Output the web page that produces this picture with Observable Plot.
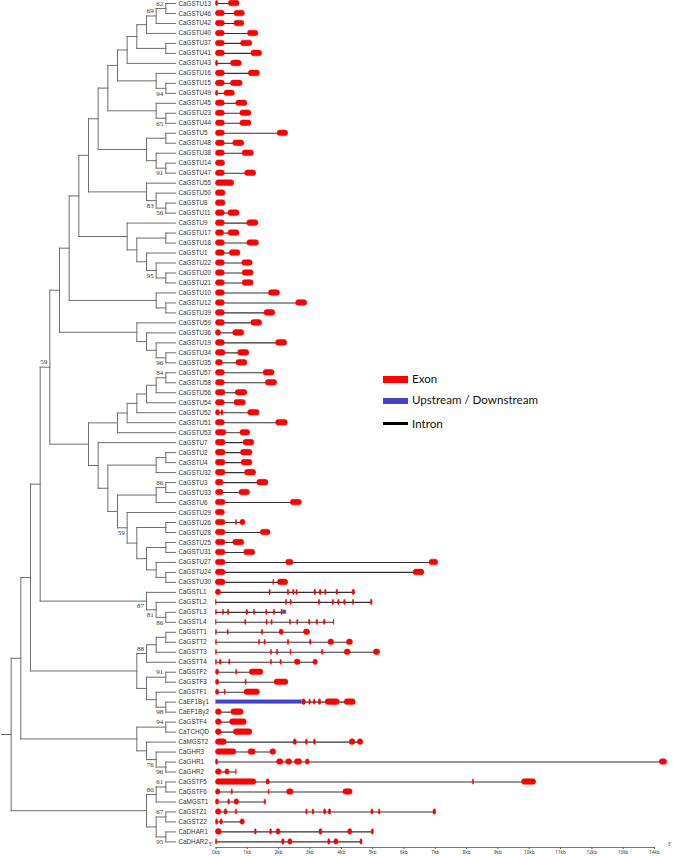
<!DOCTYPE html>
<html><head><meta charset="utf-8">
<script src="https://cdn.jsdelivr.net/npm/d3@7"></script>
<script src="https://cdn.jsdelivr.net/npm/@observablehq/plot@0.6"></script>
<style>
html,body{margin:0;padding:0;background:#fff;}
#wrap{position:relative;width:673px;height:857px;overflow:hidden;}
#wrap svg{position:absolute;left:0;top:0;}
.lg{position:absolute;left:383px;font-family:Lato,"Open Sans",sans-serif;font-size:11.6px;color:#111;}
.lg span{position:absolute;left:0;width:24.5px;}
.lg b{position:absolute;left:29px;font-weight:normal;white-space:nowrap;}
</style></head>
<body><div id="wrap"></div>
<script>
// ---- data ----
const genes = ["CaGSTU13","CaGSTU46","CaGSTU42","CaGSTU40","CaGSTU37","CaGSTU41","CaGSTU43","CaGSTU16","CaGSTU15","CaGSTU49",
"CaGSTU45","CaGSTU23","CaGSTU44","CaGSTU5","CaGSTU48","CaGSTU38","CaGSTU14","CaGSTU47","CaGSTU55","CaGSTU50",
"CaGSTU8","CaGSTU11","CaGSTU9","CaGSTU17","CaGSTU18","CaGSTU1","CaGSTU22","CaGSTU20","CaGSTU21","CaGSTU10",
"CaGSTU12","CaGSTU39","CaGSTU59","CaGSTU36","CaGSTU19","CaGSTU34","CaGSTU35","CaGSTU57","CaGSTU58","CaGSTU56",
"CaGSTU54","CaGSTU52","CaGSTU51","CaGSTU53","CaGSTU7","CaGSTU2","CaGSTU4","CaGSTU32","CaGSTU3","CaGSTU33",
"CaGSTU6","CaGSTU29","CaGSTU26","CaGSTU28","CaGSTU25","CaGSTU31","CaGSTU27","CaGSTU24","CaGSTU30","CaGSTL1",
"CaGSTL2","CaGSTL3","CaGSTL4","CaGSTT1","CaGSTT2","CaGSTT3","CaGSTT4","CaGSTF2","CaGSTF3","CaGSTF1",
"CaEF1Bγ1","CaEF1Bγ2","CaGSTF4","CaTCHQD","CaMGST2","CaGHR3","CaGHR1","CaGHR2","CaGSTF5","CaGSTF6",
"CaMGST1","CaGSTZ1","CaGSTZ2","CaDHAR1","CaDHAR2"];

// tree topology (Newick) with bootstrap support on internal nodes
const newick =
"((((((((((((((((((CaGSTU13,CaGSTU46)62,CaGSTU42)69,CaGSTU40),(CaGSTU37,CaGSTU41)),CaGSTU43)," +
"(CaGSTU16,(CaGSTU15,CaGSTU49)94)),(CaGSTU45,(CaGSTU23,CaGSTU44)65))," +
"((CaGSTU5,CaGSTU48),(CaGSTU38,(CaGSTU14,CaGSTU47)91))),(CaGSTU55,(CaGSTU50,(CaGSTU8,CaGSTU11)56)83))," +
"(CaGSTU9,((CaGSTU17,CaGSTU18),(CaGSTU1,(CaGSTU22,(CaGSTU20,CaGSTU21))95)))),(CaGSTU10,(CaGSTU12,CaGSTU39)))," +
"(CaGSTU59,(CaGSTU36,(CaGSTU19,(CaGSTU34,CaGSTU35)96))))," +
"(((((((CaGSTU57,CaGSTU58)84,CaGSTU56),CaGSTU54),CaGSTU52),CaGSTU51),CaGSTU53)," +
"(CaGSTU7,(((CaGSTU2,CaGSTU4),CaGSTU32),(((CaGSTU3,CaGSTU33)86,CaGSTU6)," +
"(CaGSTU29,((CaGSTU26,CaGSTU28),((CaGSTU25,CaGSTU31),(CaGSTU27,(CaGSTU24,CaGSTU30)))))59)))))59," +
"(CaGSTL1,(CaGSTL2,(CaGSTL3,CaGSTL4)86)81)87)," +
"((((CaGSTT1,CaGSTT2),CaGSTT3),CaGSTT4)88,((CaGSTF2,CaGSTF3)91,(CaGSTF1,(CaEF1Bγ1,CaEF1Bγ2)98))))," +
"((CaGSTF4,CaTCHQD)94,(CaMGST2,(CaGHR3,(CaGHR1,CaGHR2)96)76)))," +
"(((CaGSTF5,CaGSTF6)61,CaMGST1)80,((CaGSTZ1,CaGSTZ2)67,(CaDHAR1,CaDHAR2)95)));";

// exon positions (kb from 5' end), one list per gene in the order of `genes`
const exons = [
[[0,0.07],[0.41,0.75]],[[0,0.28],[0.59,0.92]],[[0,0.28],[0.59,0.90]],[[0,0.28],[1.02,1.35]],[[0,0.28],[0.80,1.16]],
[[0,0.28],[1.13,1.47]],[[0,0.07],[0.48,0.82]],[[0,0.28],[1.05,1.40]],[[0,0.28],[0.48,0.85]],[[0,0.07],[0.27,0.60]],
[[0,0.28],[0.65,1.00]],[[0,0.28],[0.78,1.13]],[[0,0.28],[0.78,1.13]],[[0,0.28],[1.97,2.30]],[[0,0.28],[0.55,0.90]],
[[0,0.28],[0.85,1.21]],[[0,0.29]],[[0,0.28],[0.93,1.28]],[[0,0.58]],[[0,0.30]],
[[0,0.30]],[[0,0.28],[0.40,0.75]],[[0,0.28],[1.00,1.35]],[[0,0.26],[0.40,0.75]],[[0,0.28],[1.00,1.37]],
[[0,0.28],[0.44,0.78]],[[0,0.28],[0.84,1.17]],[[0,0.28],[0.85,1.20]],[[0,0.28],[0.85,1.20]],[[0,0.28],[1.69,2.04]],
[[0,0.28],[2.56,2.91]],[[0,0.28],[1.55,1.89]],[[0,0.28],[1.13,1.47]],[[0,0.16],[0.55,0.90]],[[0,0.28],[1.92,2.27]],
[[0,0.30],[0.71,1.06]],[[0,0.22],[0.65,1.00]],[[0,0.28],[1.52,1.87]],[[0,0.28],[1.59,1.95]],[[0,0.30],[0.63,1.00]],
[[0,0.28],[0.59,0.95]],[[0,0.13],[0.17,0.24],[1.03,1.39]],[[0,0.28],[1.92,2.29]],[[0,0.33],[0.78,1.09]],[[0,0.30],[0.88,1.22]],
[[0,0.30],[0.80,1.16]],[[0,0.30],[0.82,1.16]],[[0,0.30],[0.93,1.28]],[[0,0.24],[1.32,1.67]],[[0,0.24],[0.75,1.08]],
[[0,0.30],[2.39,2.74]],[[0,0.28]],[[0,0.30],[0.64,0.67],[0.78,0.94]],[[0,0.30],[1.43,1.74]],[[0,0.30],[0.55,0.90]],
[[0,0.30],[0.90,1.25]],[[0,0.30],[2.24,2.47],[6.82,7.09]],[[0,0.30],[6.31,6.65]],[[0,0.30],[1.83,1.86],[1.98,2.30]],
[[0,0.16],[1.71,1.75],[2.29,2.34],[2.46,2.51],[2.57,2.61],[3.14,3.20],[3.31,3.37],[3.48,3.53],[3.85,3.90],[4.36,4.44]],
[[0,0.02],[2.23,2.27],[2.38,2.42],[3.28,3.33],[3.72,3.77],[3.90,3.95],[4.09,4.14],[4.37,4.41],[4.94,5.00]],
[[0,0.03],[0.22,0.26],[0.38,0.43],[0.97,1.03],[1.21,1.25],[1.60,1.64],[1.84,1.89],[2.09,2.13]],
[[0,0.02],[0.93,0.97],[1.61,1.65],[1.77,1.81],[2.36,2.40],[2.59,2.63],[2.97,3.02],[3.21,3.26],[3.44,3.50],[3.76,3.78]],
[[0,0.03],[0.37,0.41],[1.46,1.51],[2.03,2.16],[2.81,3.00]],
[[0,0.03],[1.37,1.41],[1.55,1.59],[2.29,2.34],[3.00,3.05],[3.59,3.77],[4.18,4.37]],
[[0,0.03],[1.75,1.79],[1.94,1.99],[2.38,2.41],[3.38,3.43],[4.11,4.30],[5.04,5.24]],
[[0,0.03],[0.12,0.18],[0.42,0.46],[1.75,1.79],[2.06,2.10],[2.52,2.70],[3.11,3.25]],
[[0,0.10],[0.64,0.68],[1.08,1.51]],[[0,0.10],[0.94,0.98],[1.87,2.31]],[[0,0.10],[0.27,0.31],[0.91,1.40]],
[[2.75,2.87],[2.98,3.03],[3.12,3.18],[3.28,3.36],[3.50,3.95],[4.11,4.46]],
[[0,0.18],[0.49,0.88]],[[0,0.18],[0.45,0.98]],[[0,0.18],[0.57,1.16]],
[[0,0.34],[2.48,2.58],[2.87,2.93],[3.13,3.19],[4.27,4.45],[4.53,4.70]],
[[0,0.65],[1.04,1.27],[1.74,1.92]],
[[0,0.07],[1.95,2.15],[2.24,2.43],[2.52,2.75],[2.87,2.99],[14.17,14.40]],
[[0,0.18],[0.30,0.43],[0.64,0.66]],
[[0,1.29],[1.61,1.72],[8.20,8.24],[9.77,10.22]],
[[0,0.14],[0.50,0.54],[1.68,1.71],[2.27,2.48],[4.07,4.36]],
[[0,0.10],[0.39,0.45],[0.59,0.74],[1.55,1.60]],
[[0,0.17],[0.27,0.37],[0.63,0.68],[2.88,2.93],[3.08,3.14],[3.45,3.52],[3.60,3.68],[4.96,5.03],[5.20,5.25],[6.94,7.03]],
[[0,0.07],[0.14,0.22],[0.78,0.92]],
[[0,0.18],[1.24,1.30],[1.73,1.79],[1.93,2.06],[3.30,3.40],[4.22,4.35],[4.97,5.04]],
[[0,0.04],[2.11,2.19],[2.31,2.44],[3.58,3.65],[3.78,3.91],[4.61,4.68]]
];

// upstream / downstream (UTR) segments
const utrGene  = ["CaGSTL3","CaEF1Bγ1"];
const utrStart = [2.13, 0];
const utrEnd   = [2.25, 2.75];

// axis
const kbTicks = [0,1,2,3,4,5,6,7,8,9,10,11,12,13,14];
const kbLabels = ["0kb","1kb","2kb","3kb","4kb","5kb","6kb","7kb","8kb","9kb","10kb","11kb","12kb","13kb","14kb"];

// legend
const legendLabels = ["Exon","Upstream / Downstream","Intron"];
const legendColors = ["#ff0000","#4343c9","#000000"];

// ---- tree parsing / layout ----
function parseNewick(s){
  let i = 0;
  function node(){
    const n = {};
    if (s[i] === "("){
      i++; n.children = [node()];
      while (s[i] === ","){ i++; n.children.push(node()); }
      i++;
    }
    const m = /^[^,();]*/.exec(s.slice(i))[0]; i += m.length;
    if (n.children){ if (m) n.support = +m; } else n.name = m;
    return n;
  }
  return node();
}
const root = d3.hierarchy(parseNewick(newick));
root.eachAfter(n => {
  if (!n.children) n.row = genes.indexOf(n.data.name);
  else n.row = (n.children[0].row + n.children[n.children.length-1].row)/2;
});
const segs = [];
root.each(n => {
  if (n.parent) segs.push({x1:n.parent.height, x2:n.height, y1:n.row, y2:n.row});
  if (n.children) segs.push({x1:n.height, x2:n.height, y1:n.children[0].row, y2:n.children[n.children.length-1].row});
});
const leaves = root.leaves().map(n => ({h:0, row:n.row, name:n.data.name}));
const supports = [];
root.each(n => {
  if (n.children && n.data.support != null){
    const first = n.parent && n.parent.children[0] === n;
    supports.push({h:n.height, row:n.row, text:String(n.data.support), dy: first ? -5 : 5});
  }
});

const yScale = {domain:[0, genes.length-1], range:[3, 841.4]};

const tree = Plot.plot({
  width:673, height:857, margin:0,
  x:{domain:[root.height,0], range:[1,175], axis:null},
  y:{...yScale, axis:null},
  marks:[
    Plot.link(segs, {x1:"x1", x2:"x2", y1:"y1", y2:"y2", stroke:"#6e6e6e", strokeWidth:1, strokeLinecap:"square"}),
    Plot.text(leaves, {x:"h", y:"row", text:"name", dx:3, textAnchor:"start", fontSize:6.3, fill:"#333", fontFamily:"Liberation Sans, Arial, sans-serif"}),
    Plot.text(supports.filter(d=>d.dy<0), {x:"h", y:"row", text:"text", dx:-2.5, dy:-5, textAnchor:"end", fontSize:7, fill:"#333", fontFamily:"Liberation Serif, Times New Roman, serif"}),
    Plot.text(supports.filter(d=>d.dy>0), {x:"h", y:"row", text:"text", dx:-2.5, dy:5, textAnchor:"end", fontSize:7, fill:"#333", fontFamily:"Liberation Serif, Times New Roman, serif"})
  ]
});

// ---- gene structure ----
const geneRows = genes.map((g,i) => {
  let len = d3.max(exons[i], d => d[1]);
  const u = utrGene.indexOf(g);
  if (u >= 0) len = Math.max(len, utrEnd[u]);
  return {row:i, len};
});
const exonRows = exons.flatMap((ex,i) => ex.map(([s,e]) => ({row:i, start:s, end:e})));
const utrRows = utrGene.map((g,k) => ({row:genes.indexOf(g), start:utrStart[k], end:utrEnd[k]}));

const struct = Plot.plot({
  width:673, height:857, marginLeft:215.5, marginRight:19, marginTop:0, marginBottom:10,
  x:{domain:[0,14]},
  y:{...yScale, axis:null},
  marks:[
    Plot.frame({anchor:"bottom", stroke:"#555", strokeWidth:0.8}),
    Plot.axisX({ticks:kbTicks, tickFormat:(d,i)=>kbLabels[i], tickSize:2, tickPadding:1.2, fontSize:4.6, label:null, stroke:"#555", fill:"#333"}),
    Plot.ruleY(geneRows, {y:"row", x1:0, x2:"len", stroke:"#333", strokeWidth:1.1}),
    Plot.rect(utrRows, {x1:"start", x2:"end", y1:d=>d.row-0.2, y2:d=>d.row+0.2, fill:"#4343c9", stroke:"#9c9ce8", strokeWidth:0.6}),
    Plot.rect(exonRows, {x1:"start", x2:"end", y1:d=>d.row-0.28, y2:d=>d.row+0.28, fill:"#ff0000", stroke:"#ff0000", strokeWidth:0.5, rx:2.5}),
    Plot.text(["5'"], {frameAnchor:"bottom-left", dx:-7, dy:-2, fontSize:4.6, fill:"#333"}),
    Plot.text(["3'"], {frameAnchor:"bottom-right", dx:17, dy:-2, fontSize:4.6, fill:"#333"})
  ]
});

const wrap = document.getElementById("wrap");
wrap.appendChild(struct);
wrap.appendChild(tree);

// legend
const tops = [376, 397.7, 421.7], hs = [7.3, 6.6, 3.3], texts = [371.8, 393.3, 416.8];
legendLabels.forEach((lab,k) => {
  const row = document.createElement("div");
  row.className = "lg";
  row.style.top = "0px";
  row.innerHTML = `<span style="top:${tops[k]}px;height:${hs[k]}px;background:${legendColors[k]}"></span><b style="top:${texts[k]}px">${lab}</b>`;
  wrap.appendChild(row);
});
</script>
</body></html>
